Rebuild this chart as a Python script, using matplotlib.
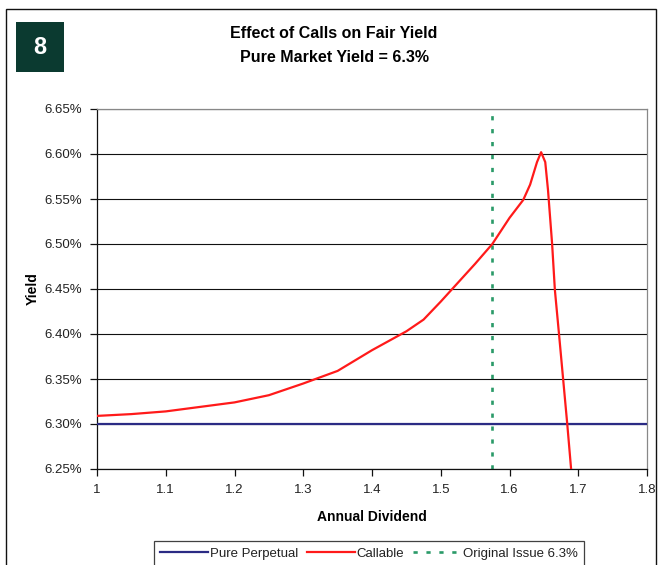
import matplotlib
matplotlib.use("Agg")
import matplotlib.pyplot as plt
from matplotlib.patches import Rectangle
from matplotlib.ticker import FuncFormatter

plt.rcParams['font.family'] = ['Liberation Sans', 'DejaVu Sans']

# ---- data ----
dividend = [1.00, 1.05, 1.10, 1.15, 1.20, 1.25, 1.30, 1.35, 1.40, 1.45, 1.475,
            1.50, 1.55, 1.575, 1.60, 1.62, 1.63, 1.64, 1.646, 1.652, 1.656,
            1.662, 1.666, 1.672, 1.678, 1.684, 1.6895, 1.695]
callable_yield = [6.309, 6.311, 6.314, 6.319, 6.324, 6.332, 6.345, 6.359, 6.382, 6.403, 6.416,
                  6.436, 6.478, 6.500, 6.529, 6.549, 6.566, 6.591, 6.602, 6.591, 6.560,
                  6.500, 6.449, 6.400, 6.350, 6.300, 6.251, 6.20]
pure_x = [1.0, 1.8]
pure_yield = [6.3, 6.3]
original_issue = 1.575
x_ticks = [1, 1.1, 1.2, 1.3, 1.4, 1.5, 1.6, 1.7, 1.8]
y_ticks = [6.25, 6.30, 6.35, 6.40, 6.45, 6.50, 6.55, 6.60, 6.65]

fig = plt.figure(figsize=(6.6, 5.65), dpi=100)
W, H = 660, 565
ax = fig.add_axes([97 / W, 1 - 469 / H, (647 - 97) / W, (469 - 109) / H])

ax.set_xlim(1, 1.8)
ax.set_ylim(6.25, 6.65)
ax.set_yticks(y_ticks)
ax.set_xticks(x_ticks)
ax.set_xticklabels([f"{t:g}" for t in x_ticks])
ax.yaxis.set_major_formatter(FuncFormatter(lambda v, p: f"{v:.2f}%"))
ax.grid(axis='y', color='#111111', linewidth=0.8, zorder=0)
ax.set_axisbelow(True)

ax.plot(pure_x, pure_yield, color='#2b2b84', linewidth=1.6, label='Pure Perpetual', zorder=3)
ax.plot(dividend, callable_yield, color='#ff1a1a', linewidth=1.6, label='Callable', zorder=4)
ln, = ax.plot([original_issue, original_issue], [6.25, 6.65], color='#2a9a68', linewidth=1.9,
              label='Original Issue 6.3%', zorder=2)
ln.set_dashes((1.6, 3.3))

for s in ['top', 'right']:
    ax.spines[s].set_color('#888888')
for s in ['left', 'bottom']:
    ax.spines[s].set_color('#111111')
for s in ax.spines.values():
    s.set_linewidth(0.9)

ax.tick_params(axis='both', direction='out', length=5, width=0.9, color='#111111',
               labelsize=9.5, labelcolor='#222222')
ax.tick_params(axis='x', pad=6)
ax.tick_params(axis='y', pad=6)

ax.set_xlabel('Annual Dividend', fontsize=10, fontweight='bold', labelpad=10)
ax.set_ylabel('Yield', fontsize=10, fontweight='bold', labelpad=3)

fig.text(334 / W, 1 - 33 / H, 'Effect of Calls on Fair Yield', ha='center', va='center',
         fontsize=11.5, fontweight='bold')
fig.text(334 / W, 1 - 57 / H, 'Pure Market Yield = 6.3%', ha='center', va='center',
         fontsize=11.5, fontweight='bold')

# badge
fig.patches.append(Rectangle((16 / W, 1 - 72 / H), 48 / W, 50 / H, transform=fig.transFigure,
                             facecolor='#0b3a30', edgecolor='none'))
fig.text(40 / W, 1 - 47 / H, '8', ha='center', va='center', color='white',
         fontsize=17, fontweight='bold')

# outer border
fig.patches.append(Rectangle((6 / W, -0.05), (656 - 6) / W, 1 - 9 / H + 0.05,
                             transform=fig.transFigure, facecolor='none',
                             edgecolor='#111111', linewidth=1.0))

leg = ax.legend(loc='upper center', bbox_to_anchor=(369 / W, 1 - 541 / H),
                bbox_transform=fig.transFigure, ncol=3, frameon=True, fancybox=False,
                edgecolor='#111111', fontsize=9.5, handlelength=3.6, handletextpad=0.15,
                columnspacing=0.7, borderpad=0.5, borderaxespad=0)
leg.get_frame().set_linewidth(0.9)
for t in leg.get_texts():
    t.set_color('#222222')

fig.savefig('out.png', dpi=100)
